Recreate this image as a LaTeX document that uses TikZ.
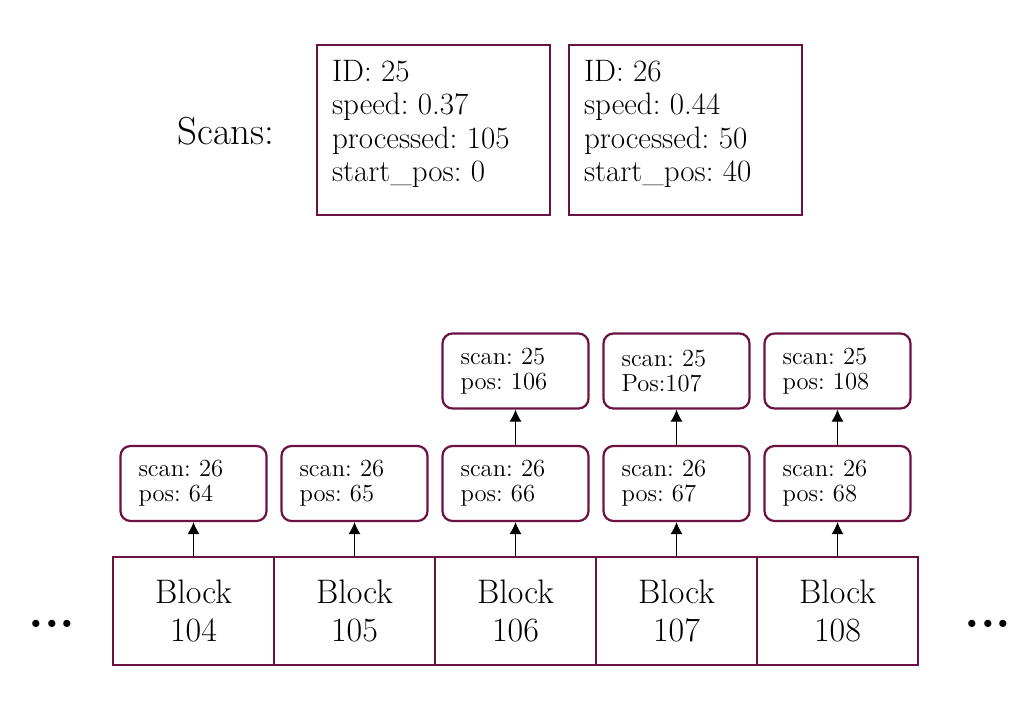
\documentclass[tikz,border=0pt]{standalone}
\usepackage{tikz}
\usetikzlibrary{arrows.meta,positioning}
\definecolor{maroon}{RGB}{108,18,66}
\frenchspacing

\begin{document}
\begin{tikzpicture}[x=0.5pt, y=-0.5pt, line width=1.1pt]
   \useasboundingbox (0,0) rectangle (1034,703);
   \node (scans) at (226,131) {\fontsize{19.5}{22}\selectfont Scans:};
   % scan records
   \begin{scope}[every node/.style={draw=maroon, minimum width=116.5pt, minimum height=85pt}]
    \node (s25) at (433.5,130) {};
    \node (s26) at (685.5,130) {};
   \end{scope}
   \begin{scope}[every node/.style={anchor=north west, align=left, inner sep=0pt, font=\fontsize{15.5}{16.75}\selectfont}]
    \node (s25txt) at ([xshift=7.5pt,yshift=-7.5pt]s25.north west) {ID: 25\\ speed: 0.37\\ processed: 105\\ start\_pos: 0};
    \node (s26txt) at ([xshift=7.5pt,yshift=-7.5pt]s26.north west) {ID: 26\\ speed: 0.44\\ processed: 50\\ start\_pos: 40};
   \end{scope}
   % blocks
   \begin{scope}[every node/.style={draw=maroon, minimum width=80.5pt, minimum height=54pt, align=center, font=\fontsize{17}{19}\selectfont}]
    \node (b104) at (193.5,611) {Block\\104};
    \node (b105) at (354.5,611) {Block\\105};
    \node (b106) at (515.5,611) {Block\\106};
    \node (b107) at (676.5,611) {Block\\107};
    \node (b108) at (837.5,611) {Block\\108};
   \end{scope}
   % positions of the scans
   \begin{scope}[every node/.style={draw=maroon, rounded corners=5pt, minimum width=73pt, minimum height=37.5pt, text width=55pt, align=left, font=\fontsize{12.3}{12.5}\selectfont}]
    \node (p104) at (193.5,483.5) {scan: 26\\ pos: 64};
    \node (p105) at (354.5,483.5) {scan: 26\\ pos: 65};
    \node (p106) at (515.5,483.5) {scan: 26\\ pos: 66};
    \node (p107) at (676.5,483.5) {scan: 26\\ pos: 67};
    \node (p108) at (837.5,483.5) {scan: 26\\ pos: 68};
    \node (q106) at (515.5,371) {scan: 25\\ pos: 106};
    \node (q107) at (676.5,371) {scan: 25\\ Pos:107};
    \node (q108) at (837.5,371) {scan: 25\\ pos: 108};
   \end{scope}
   \begin{scope}[-{Latex[length=6pt,width=6pt]}, every edge/.style={draw=black, line width=0.5pt}]
    \draw (b104) edge (p104);
    \draw (b105) edge (p105);
    \draw (b106) edge (p106);
    \draw (b107) edge (p107);
    \draw (b108) edge (p108);
    \draw (p106) edge (q106);
    \draw (p107) edge (q107);
    \draw (p108) edge (q108);
   \end{scope}
   \node (ldots) [anchor=base] at (52,627) {\fontsize{25}{26}\selectfont\bfseries ...};
   \node (rdots) [anchor=base] at (988,627) {\fontsize{25}{26}\selectfont\bfseries ...};
\end{tikzpicture}
\end{document}
